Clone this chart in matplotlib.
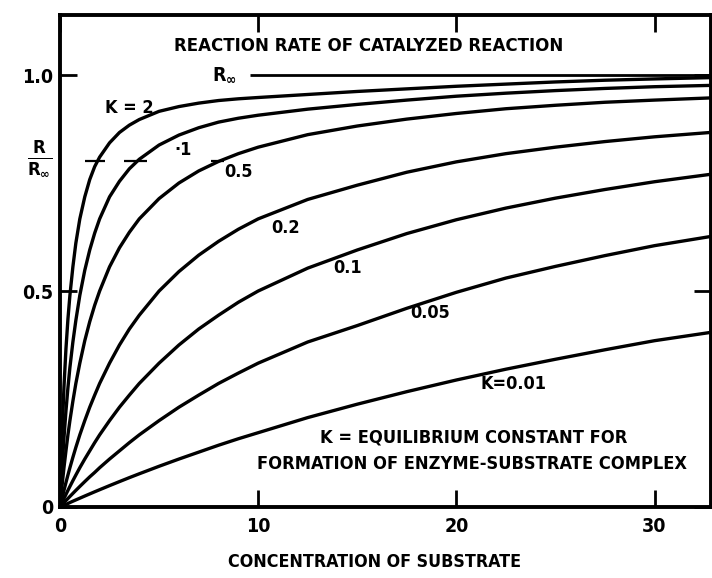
import numpy as np
import matplotlib.pyplot as plt

plt.rcParams['font.family'] = ['DejaVu Sans']
plt.rcParams['font.weight'] = 'bold'
plt.rcParams['font.stretch'] = 'condensed'
plt.rcParams['mathtext.fontset'] = 'dejavusans'

# substrate concentration
conc = [0, 0.05, 0.1, 0.2, 0.3, 0.4, 0.5, 0.65, 0.8, 1, 1.25, 1.5, 1.75, 2, 2.5, 3,
        3.5, 4, 5, 6, 7, 8, 9, 10, 12.5, 15, 17.5, 20, 22.5, 25, 27.5, 30, 32.8]

# R / R_inf for each K
r_k2 = [0, 0.088, 0.161, 0.278, 0.366, 0.435, 0.49, 0.556, 0.611, 0.667, 0.718, 0.758,
        0.788, 0.81, 0.843, 0.867, 0.884, 0.897, 0.916, 0.927, 0.935, 0.941, 0.945, 0.948,
        0.955, 0.962, 0.968, 0.974, 0.979, 0.984, 0.988, 0.991, 0.994]
r_k1 = [0, 0.045, 0.087, 0.16, 0.222, 0.276, 0.323, 0.382, 0.432, 0.49, 0.548, 0.595,
        0.634, 0.667, 0.718, 0.754, 0.783, 0.805, 0.838, 0.861, 0.878, 0.891, 0.9, 0.907,
        0.921, 0.932, 0.942, 0.951, 0.958, 0.964, 0.969, 0.973, 0.976]
r_k05 = [0, 0.024, 0.048, 0.091, 0.13, 0.167, 0.2, 0.245, 0.286, 0.333, 0.385, 0.429,
         0.467, 0.5, 0.556, 0.6, 0.636, 0.667, 0.714, 0.75, 0.778, 0.8, 0.818, 0.833,
         0.862, 0.882, 0.898, 0.911, 0.922, 0.93, 0.937, 0.942, 0.947]
r_k02 = [0, 0.0099, 0.0196, 0.0385, 0.0566, 0.074, 0.091, 0.115, 0.138, 0.167, 0.2, 0.231,
         0.259, 0.286, 0.333, 0.375, 0.412, 0.444, 0.5, 0.545, 0.583, 0.615, 0.643, 0.667,
         0.712, 0.745, 0.775, 0.799, 0.818, 0.833, 0.846, 0.857, 0.867]
r_k01 = [0, 0.005, 0.0099, 0.0196, 0.029, 0.0385, 0.0476, 0.061, 0.074, 0.091, 0.111, 0.13,
         0.149, 0.167, 0.2, 0.231, 0.259, 0.286, 0.333, 0.375, 0.412, 0.444, 0.474, 0.5,
         0.553, 0.595, 0.633, 0.665, 0.692, 0.715, 0.735, 0.753, 0.77]
r_k005 = [0, 0.0025, 0.005, 0.0099, 0.0148, 0.0196, 0.0244, 0.0315, 0.0385, 0.0476, 0.0588,
          0.0698, 0.08, 0.0909, 0.111, 0.13, 0.149, 0.167, 0.2, 0.231, 0.259, 0.286, 0.31,
          0.333, 0.382, 0.42, 0.46, 0.497, 0.53, 0.557, 0.582, 0.605, 0.626]
r_k001 = [0, 0.001, 0.002, 0.004, 0.006, 0.008, 0.0103, 0.0134, 0.0164, 0.0204, 0.0254,
          0.0303, 0.0352, 0.04, 0.0495, 0.0588, 0.068, 0.0769, 0.0943, 0.111, 0.127, 0.143,
          0.158, 0.172, 0.207, 0.238, 0.267, 0.294, 0.319, 0.342, 0.364, 0.385, 0.404]

curves = [r_k2, r_k1, r_k05, r_k02, r_k01, r_k005, r_k001]

# curve labels: text, x, y
labels = ['K = 2', '·1', '0.5', '0.2', '0.1', '0.05', 'K=0.01']
label_x = [3.5, 6.2, 9.0, 11.4, 14.5, 18.7, 22.9]
label_y = [0.924, 0.826, 0.775, 0.646, 0.553, 0.449, 0.285]

# short marks at R/R_inf = 0.8
mark_x0 = [1.25, 3.25, 7.6]
mark_x1 = [2.25, 4.4, 8.3]
mark_y = 0.8

fig = plt.figure(figsize=(7.12, 5.78), dpi=100)
ax = fig.add_axes([60/712, 71/578, 651/712, 492/578])

for r in curves:
    ax.plot(conc, r, color='black', lw=2.4, solid_capstyle='round')

ax.hlines(1.0, 9.6, 32.85, color='black', lw=2.0)
ax.hlines([mark_y]*3, mark_x0, mark_x1, color='black', lw=1.6)

for t, x, y in zip(labels, label_x, label_y):
    ax.text(x, y, t, fontsize=13, ha='center', va='center')

ax.text(8.3, 1.0, r'R$_{\infty}$', fontsize=14, ha='center', va='center')
ax.text(15.6, 1.067, 'REACTION RATE OF CATALYZED REACTION', fontsize=13.3,
        ha='center', va='center')
ax.text(20.9, 0.16, 'K = EQUILIBRIUM CONSTANT FOR', fontsize=13.1, ha='center', va='center')
ax.text(20.8, 0.10, 'FORMATION OF ENZYME-SUBSTRATE COMPLEX', fontsize=13.1,
        ha='center', va='center')

fig.text(374/712, 1 - 562/578, 'CONCENTRATION OF SUBSTRATE', fontsize=12.8,
         ha='center', va='center')
fig.text(40/712, 1 - 158/578, r'$\frac{\mathbf{R}}{\mathbf{R_{\infty}}}$', fontsize=19,
         ha='center', va='center')

ax.set_xlim(0, 32.85)
ax.set_ylim(0, 1.139)
ax.set_xticks([0, 10, 20, 30])
ax.set_xticklabels(['0', '10', '20', '30'])
ax.set_yticks([0, 0.5, 1.0])
ax.set_yticklabels(['0', '0.5', '1.0'])
ax.tick_params(direction='in', length=12, width=2, top=True, right=True,
               labelsize=14)
ax.tick_params(axis='x', pad=7)
ax.tick_params(axis='y', pad=5)
for s in ax.spines.values():
    s.set_linewidth(2.8)

fig.savefig('out.png', dpi=100)
